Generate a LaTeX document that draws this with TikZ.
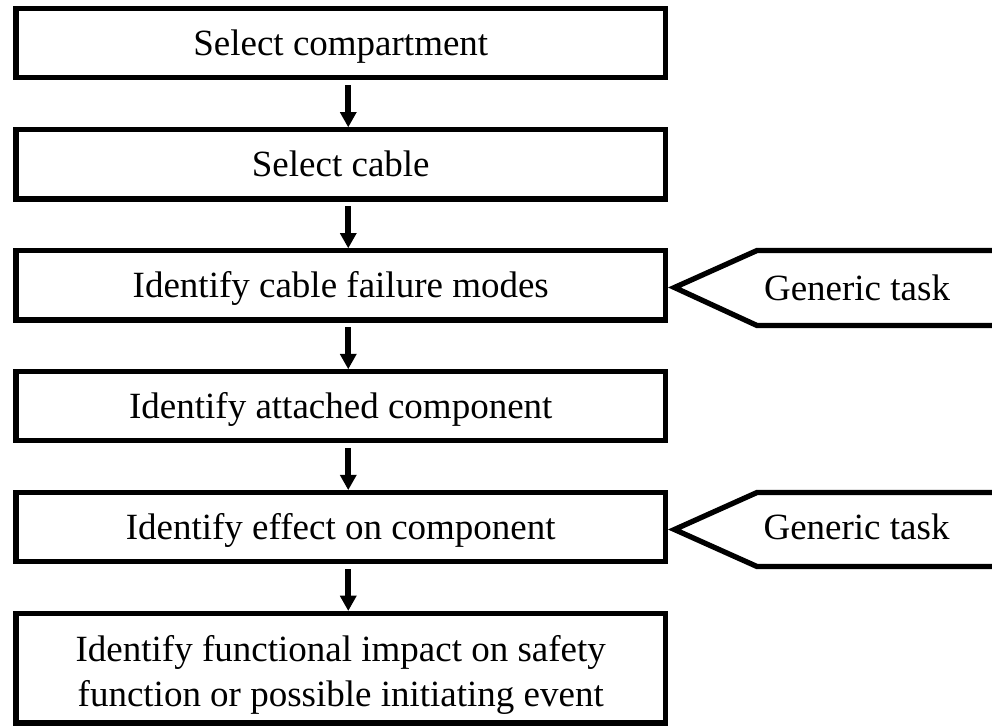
\documentclass[tikz,border=0pt]{standalone}
\usepackage{fontspec}
\setmainfont{Liberation Serif}
\usetikzlibrary{arrows.meta,calc}
\tikzset{
  stepbox/.style={draw, line width=5.3pt, minimum width=649.5pt, minimum height=69.2pt,
    inner sep=0pt, align=center, font=\fontsize{37}{44.4}\selectfont,
    text height=25pt, text depth=0pt},
  flowarrow/.style={line width=6pt, -{Triangle[width=17pt,length=15pt,line width=0pt]}},
  tasktag/.style={draw, line width=5.3pt, line join=miter},
  tasklabel/.style={inner sep=0pt, font=\fontsize{37}{44.4}\selectfont,
    text height=25pt, text depth=0pt}
}
\begin{document}
\begin{tikzpicture}[x=1pt,y=-1pt]
\useasboundingbox (0,0) rectangle (992,726);

% process steps
\node[stepbox] (b1) at (340.75,43.1)  {Select compartment};
\node[stepbox] (b2) at (340.75,164.3) {Select cable};
\node[stepbox] (b3) at (340.75,285.3) {Identify cable failure modes};
\node[stepbox] (b4) at (340.75,406.2) {Identify attached component};
\node[stepbox] (b5) at (340.75,527.1) {Identify effect on component};
\node[stepbox, minimum height=109.7pt, text height=75.6pt] (b6) at (340.75,668.2)
  {Identify functional impact on safety\\function or possible initiating event};

% flow arrows
\foreach \a/\b in {b1/b2,b2/b3,b3/b4,b4/b5,b5/b6}
  \draw[flowarrow] ($(\a.south)+(7.5,4.7)$) -- ($(\b.north)+(7.5,0)$);

% generic task tags
\node[tasklabel] (g1) at (857,287.5) {Generic task};
\node[tasklabel] (g2) at (856.5,527)  {Generic task};

\draw[tasktag] (1010,250.5) -- (757,250.5) -- ($(b3.east)+(6.3,2.2)$)
  -- (757,325.5) -- (1010,325.5);
\draw[tasktag] (1010,492.5) -- (757,492.5) -- ($(b5.east)+(6.3,2.4)$)
  -- (757,566.5) -- (1010,566.5);
\end{tikzpicture}
\end{document}
